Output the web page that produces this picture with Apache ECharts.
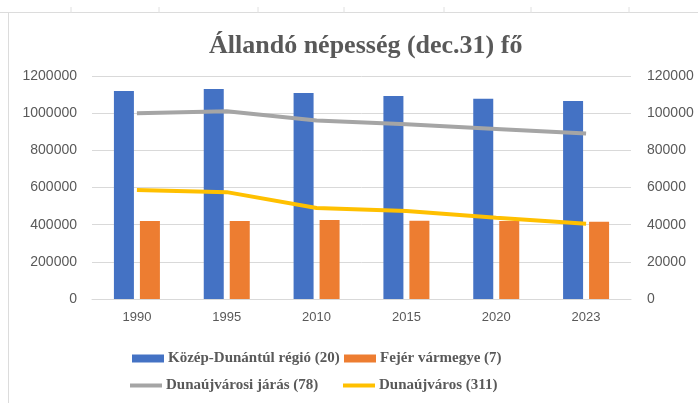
<!DOCTYPE html>
<html>
<head>
<meta charset="utf-8">
<script src="https://cdn.jsdelivr.net/npm/echarts@6/dist/echarts.min.js"></script>
<style>html,body{margin:0;padding:0;background:#fff}#c{width:698px;height:403px}</style>
</head>
<body>
<div id="c"></div>
<script>
const categories = ['1990', '1995', '2010', '2015', '2020', '2023'];
const kozepDunantul = [1119000, 1130000, 1108000, 1092000, 1077000, 1066000];
const fejer = [420000, 420000, 425000, 421000, 420000, 416000];
const dunaujvarosiJaras = [100000, 101000, 96000, 94000, 91500, 89000];
const dunaujvaros = [58700, 57500, 49000, 47300, 43700, 40500];
const leftTicks = [0, 1200000, 200000];
const rightTicks = [0, 120000, 20000];

const names = ['Közép-Dunántúl régió (20)', 'Fejér vármegye (7)', 'Dunaújvárosi járás (78)', 'Dunaújváros (311)'];
const txt = '#595959';
const legendText = {color: txt, fontFamily: 'Liberation Serif', fontWeight: 'bold', fontSize: 15};
function lg(name, left, top, h) {
  return {data: [{name: name, icon: 'rect'}], left: left, top: top, itemWidth: 32, itemHeight: h,
    itemGap: 0, padding: 0, textStyle: Object.assign({padding: [0, 0, 0, -1]}, legendText), selectedMode: false};
}
const chart = echarts.init(document.getElementById('c'), null, {renderer: 'canvas'});
const tickMarks = [71, 159, 258, 344, 444, 531, 629].map(x => ({type: 'line', shape: {x1: x, y1: 7, x2: x, y2: 13}, style: {stroke: '#e0e0e0', lineWidth: 1}}));
const plain = v => String(v);
chart.setOption({
  backgroundColor: '#fff',
  animation: false,
  title: {text: 'Állandó népesség (dec.31) fő', left: 204, top: 28,
    textStyle: {color: txt, fontFamily: 'Liberation Serif', fontWeight: 'bold', fontSize: 26}},
  graphic: [
    {type: 'line', shape: {x1: 0, y1: 12.5, x2: 698, y2: 12.5}, style: {stroke: '#dcdcdc', lineWidth: 1}},
    {type: 'line', shape: {x1: 8.5, y1: 12, x2: 8.5, y2: 403}, style: {stroke: '#dcdcdc', lineWidth: 1}}
  ].concat(tickMarks),
  legend: [
    lg(names[0], 132, 351, 8),
    lg(names[1], 344, 351, 8),
    lg(names[2], 130, 378, 4),
    lg(names[3], 343, 378, 4)
  ],
  grid: {left: 92, right: 67, top: 76, bottom: 104},
  xAxis: {type: 'category', data: categories,
    axisLine: {lineStyle: {color: '#d9d9d9'}}, axisTick: {show: false},
    axisLabel: {color: txt, fontFamily: 'Liberation Sans', fontSize: 13, margin: 12}},
  yAxis: [
    {type: 'value', min: leftTicks[0], max: leftTicks[1], interval: leftTicks[2],
      splitLine: {lineStyle: {color: '#d9d9d9'}}, axisLine: {show: false}, axisTick: {show: false},
      axisLabel: {color: txt, fontFamily: 'Liberation Sans', fontSize: 14, margin: 15, formatter: plain}},
    {type: 'value', min: rightTicks[0], max: rightTicks[1], interval: rightTicks[2],
      splitLine: {show: false}, axisLine: {show: false}, axisTick: {show: false},
      axisLabel: {color: txt, fontFamily: 'Liberation Sans', fontSize: 14, margin: 16, formatter: plain}}
  ],
  series: [
    {name: names[0], type: 'bar', data: kozepDunantul, barWidth: 20, barGap: '30%', itemStyle: {color: '#4472C4'}},
    {name: names[1], type: 'bar', data: fejer, barWidth: 20, barGap: '30%', itemStyle: {color: '#ED7D31'}},
    {name: names[2], type: 'line', yAxisIndex: 1, data: dunaujvarosiJaras, showSymbol: false, symbol: 'none',
      lineStyle: {color: '#A5A5A5', width: 4}, itemStyle: {color: '#A5A5A5'}},
    {name: names[3], type: 'line', yAxisIndex: 1, data: dunaujvaros, showSymbol: false, symbol: 'none',
      lineStyle: {color: '#FFC000', width: 4}, itemStyle: {color: '#FFC000'}}
  ]
});
</script>
</body>
</html>
